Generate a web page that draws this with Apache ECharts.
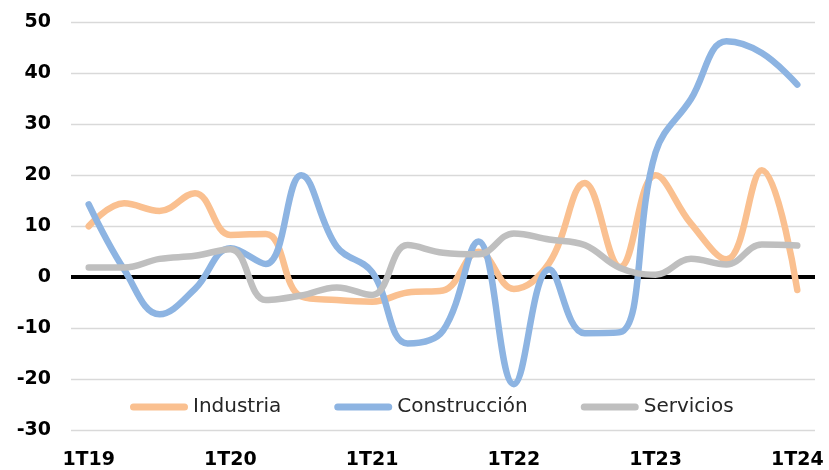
<!DOCTYPE html>
<html>
<head>
<meta charset="utf-8">
<script src="https://cdn.jsdelivr.net/npm/echarts@6/dist/echarts.min.js"></script>
<style>
html,body{margin:0;padding:0;background:#fff;}
#chart{width:829px;height:470px;}
</style>
</head>
<body>
<div id="chart"></div>
<script>
var categories = ['1T19','2T19','3T19','4T19','1T20','2T20','3T20','4T20','1T21','2T21','3T21','4T21','1T22','2T22','3T22','4T22','1T23','2T23','3T23','4T23','1T24'];
var industria = [10, 14.5, 13, 16.5, 8.3, 8.5, -3.8, -4.5, -4.8, -3, -2.6, 5, -2.3, 2.8, 18.5, 2, 20, 10.5, 3.5, 21, -2.5];
var construccion = [14.3, 1.5, -7.3, -2.3, 5.7, 2.6, 20, 6, 1, -13, -10.5, 7, -21, 1.5, -11, -10.8, 24.5, 35, 46.3, 44, 37.8];
var servicios = [1.9, 1.9, 3.6, 4.2, 5.5, -4.5, -3.6, -2, -3.5, 6.3, 4.8, 4.5, 8.6, 7.4, 6.3, 1.8, 0.5, 3.6, 2.5, 6.4, 6.2];
var seriesNames = ['Industria', 'Construcción', 'Servicios'];
var colors = ['#FAC090', '#8DB4E2', '#BFBFBF'];

var chart = echarts.init(document.getElementById('chart'));
var capsule = 'path://M3.5,0 L54.5,0 A3.5,3.5 0 0 1 54.5,7 L3.5,7 A3.5,3.5 0 0 1 3.5,0 Z';
function mk(name, data, color, withZero) {
  var s = {
    name: name, type: 'line', data: data, smooth: 0.4, symbol: 'none',
    lineStyle: { color: color, width: 6.5, cap: 'round', join: 'round' },
    itemStyle: { color: color }
  };
  if (withZero) {
    s.markLine = {
      silent: true, symbol: 'none', label: { show: false },
      lineStyle: { color: '#000', width: 4, type: 'solid' },
      data: [{ yAxis: 0 }], z: 1
    };
  }
  return s;
}
chart.setOption({
  animation: false,
  backgroundColor: '#fff',
  color: colors,
  grid: { left: 71, right: 14, top: 22.5, bottom: 37, containLabel: false },
  legend: {
    data: seriesNames.map(function(n){ return { name: n, icon: capsule }; }),
    left: 125, top: 392,
    itemWidth: 58, itemHeight: 7, itemGap: 53,
    textStyle: { fontFamily: 'DejaVu Sans', fontSize: 20, color: '#262626' }
  },
  xAxis: {
    type: 'category', data: categories, boundaryGap: true,
    axisLine: { show: false }, axisTick: { show: false },
    axisLabel: { interval: 3, margin: 21, color: '#000', fontFamily: 'DejaVu Sans', fontWeight: 'bold', fontSize: 19 },
    splitLine: { show: false }
  },
  yAxis: {
    type: 'value', min: -30, max: 50, interval: 10,
    axisLine: { show: false }, axisTick: { show: false },
    axisLabel: { margin: 20, color: '#000', fontFamily: 'DejaVu Sans', fontWeight: 'bold', fontSize: 19 },
    splitLine: { lineStyle: { color: '#D9D9D9', width: 1.3 } }
  },
  series: [
    mk(seriesNames[0], industria, colors[0], true),
    mk(seriesNames[1], construccion, colors[1], false),
    mk(seriesNames[2], servicios, colors[2], false)
  ]
});
</script>
</body>
</html>
